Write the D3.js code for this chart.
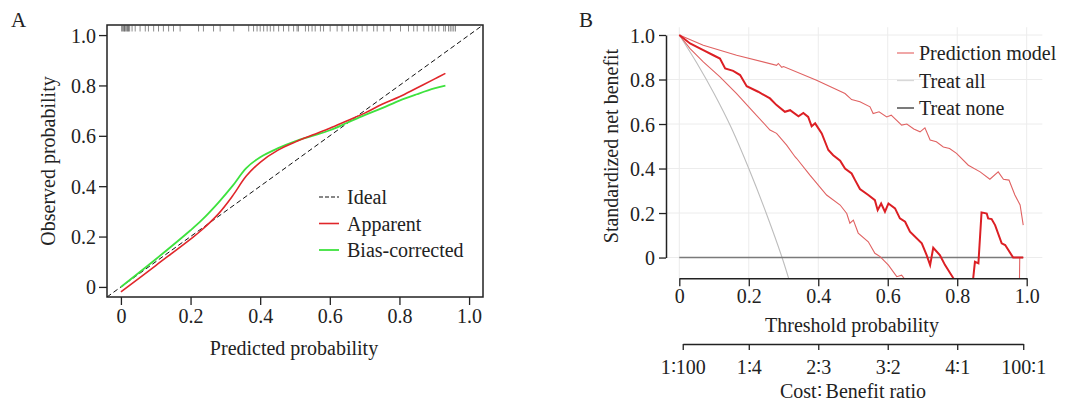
<!DOCTYPE html>
<html>
<head>
<meta charset="utf-8">
<script src="https://cdn.jsdelivr.net/npm/d3@7"></script>
<style>
  body { margin: 0; background: #fff; }
  svg text { font-family: "Liberation Serif", "DejaVu Serif", serif; fill: #222; }
</style>
</head>
<body>
<svg id="chart" width="1067" height="402"></svg>
<script>
// ---- panel A: calibration curve ----
const calTicks = [0, 0.2, 0.4, 0.6, 0.8, 1.0];
const calTickLabels = ["0", "0.2", "0.4", "0.6", "0.8", "1.0"];
const apparentPred = [0, 0.1, 0.2, 0.232, 0.28, 0.32, 0.36, 0.4, 0.45, 0.5, 0.55, 0.6, 0.65, 0.7, 0.75, 0.8, 0.85, 0.9, 0.932];
const apparentObs  = [-0.02, 0.085, 0.19, 0.226, 0.29, 0.36, 0.44, 0.495, 0.542, 0.575, 0.603, 0.63, 0.66, 0.69, 0.725, 0.755, 0.79, 0.825, 0.848];
const biasPred = [0, 0.1, 0.2, 0.232, 0.28, 0.32, 0.36, 0.4, 0.45, 0.5, 0.55, 0.6, 0.65, 0.7, 0.75, 0.8, 0.85, 0.9, 0.932];
const biasObs  = [0, 0.11, 0.225, 0.265, 0.335, 0.4, 0.472, 0.515, 0.55, 0.578, 0.6, 0.622, 0.652, 0.682, 0.71, 0.74, 0.765, 0.788, 0.799];
// predicted probabilities shown as rug marks along the top
const rugPred = [0.002, 0.005, 0.008, 0.01, 0.012, 0.015, 0.018, 0.02, 0.022, 0.025, 0.032, 0.041, 0.055, 0.07, 0.079,
  0.094, 0.108, 0.122, 0.137, 0.151, 0.17, 0.223, 0.237, 0.266, 0.285, 0.324, 0.367, 0.381, 0.391, 0.4, 0.41,
  0.42, 0.429, 0.439, 0.453, 0.467, 0.482, 0.496, 0.506, 0.51, 0.53, 0.539, 0.549, 0.558, 0.573, 0.582, 0.601,
  0.621, 0.635, 0.654, 0.668, 0.678, 0.693, 0.707, 0.726, 0.736, 0.755, 0.774, 0.803, 0.826, 0.841, 0.851, 0.87,
  0.884, 0.894, 0.903, 0.913, 0.927, 0.932, 0.941, 0.946, 0.951, 0.956, 0.961];

// ---- panel B: decision curve ----
const dcaTicks = [0, 0.2, 0.4, 0.6, 0.8, 1.0];
const dcaTickLabels = ["0", "0.2", "0.4", "0.6", "0.8", "1.0"];
const ratioTicks = [0.0099, 0.2, 0.4, 0.6, 0.8, 0.99];
const ratioLabels = ["1\u2236100", "1\u22364", "2\u22363", "3\u22362", "4\u22361", "100\u22361"];
const modelThr = [0, 0.031, 0.069, 0.098, 0.117, 0.132, 0.155, 0.175, 0.194, 0.227, 0.261, 0.28, 0.304, 0.319, 0.343,
  0.357, 0.371, 0.381, 0.391, 0.41, 0.429, 0.443, 0.463, 0.477, 0.496, 0.506, 0.52, 0.544, 0.563, 0.571, 0.581,
  0.592, 0.602, 0.621, 0.635, 0.65, 0.664, 0.698, 0.712, 0.722, 0.731, 0.75, 0.765, 0.789, 0.8, 0.82, 0.84,
  0.846, 0.851, 0.861, 0.87, 0.885, 0.889, 0.899, 0.909, 0.928, 0.938, 0.961, 0.99];
const modelNB = [1, 0.962, 0.932, 0.909, 0.894, 0.85, 0.839, 0.82, 0.77, 0.745, 0.715, 0.685, 0.655, 0.662, 0.635,
  0.65, 0.632, 0.59, 0.603, 0.558, 0.483, 0.46, 0.435, 0.4, 0.378, 0.348, 0.308, 0.281, 0.258, 0.213, 0.243,
  0.206, 0.243, 0.221, 0.176, 0.161, 0.116, 0.064, 0.011, -0.034, 0.044, 0.011, -0.034, -0.093, -0.2, -0.3, -0.2,
  -0.093, -0.019, -0.026, 0.203, 0.198, 0.176, 0.173, 0.146, 0.064, 0.056, 0, 0];
const upperThr = [0, 0.069, 0.165, 0.28, 0.285, 0.295, 0.3, 0.395, 0.477, 0.496, 0.52, 0.549, 0.558, 0.575, 0.597,
  0.61, 0.64, 0.655, 0.675, 0.693, 0.707, 0.722, 0.74, 0.76, 0.778, 0.798, 0.832, 0.866, 0.894, 0.918, 0.933,
  0.949, 0.966, 0.981, 0.99];
const upperNB = [1, 0.954, 0.909, 0.864, 0.872, 0.855, 0.858, 0.797, 0.737, 0.71, 0.7, 0.677, 0.647, 0.655, 0.632,
  0.64, 0.595, 0.6, 0.578, 0.565, 0.583, 0.528, 0.52, 0.497, 0.49, 0.468, 0.415, 0.385, 0.352, 0.385, 0.352,
  0.348, 0.281, 0.236, 0.146];
const lowerThr = [0, 0.031, 0.069, 0.117, 0.165, 0.213, 0.261, 0.28, 0.309, 0.333, 0.338, 0.376, 0.424, 0.463, 0.482,
  0.491, 0.501, 0.515, 0.544, 0.563, 0.578, 0.602, 0.626, 0.64, 0.65, 0.7, 0.8, 0.9, 0.975, 0.98, 0.99];
const lowerNB = [1, 0.939, 0.879, 0.812, 0.737, 0.655, 0.573, 0.558, 0.505, 0.453, 0.445, 0.37, 0.281, 0.236, 0.198,
  0.154, 0.168, 0.11, 0.071, 0.019, 0.004, -0.034, -0.086, -0.079, -0.1, -0.3, -0.5, -0.6, -0.6, 0, 0];
const allThr = [0, 0.05, 0.1, 0.15, 0.2, 0.25, 0.3, 0.32];
const allNB  = [1, 0.875, 0.737, 0.582, 0.4, 0.2, -0.02, -0.12];
const noneThr = [0, 0.99];
const noneNB  = [0, 0];

const svg = d3.select("#chart");
const FS = 20;
const zip = (a, b) => a.map((v, i) => [v, b[i]]);

// ================= Panel A =================
const xA = d3.scaleLinear().domain([-0.04, 1.04]).range([107, 483]);
const yA = d3.scaleLinear().domain([-0.04, 1.04]).range([297, 25]);

svg.append("text").attr("x", 11).attr("y", 27).attr("font-size", 21).text("A");

svg.append("clipPath").attr("id", "clipA").append("rect")
  .attr("x", 107).attr("y", 25).attr("width", 376).attr("height", 272);

const gA = svg.append("g");
const lineA = d3.line().x(d => xA(d[0])).y(d => yA(d[1])).curve(d3.curveCatmullRom.alpha(0.5));

// ideal diagonal
gA.append("path").attr("clip-path", "url(#clipA)")
  .attr("d", d3.line().x(d => xA(d[0])).y(d => yA(d[1]))([[-0.04, -0.04], [1.04, 1.04]]))
  .attr("fill", "none").attr("stroke", "#111").attr("stroke-width", 1).attr("stroke-dasharray", "5,3");
gA.append("path").attr("d", lineA(zip(biasPred, biasObs)))
  .attr("fill", "none").attr("stroke", "#3ee23e").attr("stroke-width", 1.8);
gA.append("path").attr("d", lineA(zip(apparentPred, apparentObs)))
  .attr("fill", "none").attr("stroke", "#e0262a").attr("stroke-width", 1.6);

// rug
gA.selectAll(".rug").data(rugPred).enter().append("line")
  .attr("x1", d => xA(d)).attr("x2", d => xA(d)).attr("y1", 25.5).attr("y2", 31.5)
  .attr("stroke", "#000").attr("stroke-width", 1).attr("stroke-opacity", 0.45);

// box
gA.append("rect").attr("x", 107).attr("y", 25).attr("width", 376).attr("height", 272)
  .attr("fill", "none").attr("stroke", "#222").attr("stroke-width", 1.5);

// axes
const axAx = gA.append("g").attr("transform", "translate(0,297)")
  .call(d3.axisBottom(xA).tickValues(calTicks).tickFormat((d, i) => calTickLabels[i]).tickSize(8).tickPadding(4));
const axAy = gA.append("g").attr("transform", "translate(107,0)")
  .call(d3.axisLeft(yA).tickValues(calTicks).tickFormat((d, i) => calTickLabels[i]).tickSize(8).tickPadding(3));
[axAx, axAy].forEach(g => {
  g.select(".domain").remove();
  g.selectAll("line").attr("stroke", "#222").attr("stroke-width", 1.3);
  g.selectAll("text").attr("font-size", FS).attr("font-family", "Liberation Serif").attr("fill", "#222");
});
axAy.selectAll("text").attr("dy", "0.35em");

svg.append("text").attr("x", 294).attr("y", 355).attr("text-anchor", "middle").attr("font-size", FS)
  .text("Predicted probability");
svg.append("text").attr("transform", "translate(55,161) rotate(-90)").attr("text-anchor", "middle")
  .attr("font-size", FS).text("Observed probability");

// legend A
const legA = [
  { label: "Ideal", color: "#111", dash: "4,2", w: 1.2 },
  { label: "Apparent", color: "#e0262a", dash: null, w: 1.6 },
  { label: "Bias-corrected", color: "#3ee23e", dash: null, w: 1.8 }
];
legA.forEach((d, i) => {
  const y = 197 + i * 26.5;
  svg.append("line").attr("x1", 319).attr("x2", 339).attr("y1", y).attr("y2", y)
    .attr("stroke", d.color).attr("stroke-width", d.w).attr("stroke-dasharray", d.dash);
  svg.append("text").attr("x", 347).attr("y", y + 7).attr("font-size", FS).text(d.label);
});

// ================= Panel B =================
const xB = d3.scaleLinear().domain([0, 1]).range([679.3, 1026.7]);
const yB = d3.scaleLinear().domain([-0.1, 1]).range([279.8, 35]);
const axisY = 278.3;

svg.append("text").attr("x", 579).attr("y", 27).attr("font-size", 21).text("B");

const gB = svg.append("g");
// grid
const gx0 = xB(-0.035), gx1 = xB(1.045), gy0 = yB(1.035);
dcaTicks.forEach(t => {
  gB.append("line").attr("x1", xB(t)).attr("x2", xB(t)).attr("y1", gy0).attr("y2", axisY)
    .attr("stroke", "#ececec").attr("stroke-width", 1);
  gB.append("line").attr("x1", gx0).attr("x2", gx1).attr("y1", yB(t)).attr("y2", yB(t))
    .attr("stroke", "#ececec").attr("stroke-width", 1);
});

svg.append("clipPath").attr("id", "clipB").append("rect")
  .attr("x", 660).attr("y", 20).attr("width", 390).attr("height", axisY - 20);

const lineB = d3.line().x(d => xB(d[0])).y(d => yB(d[1]));
const curves = gB.append("g").attr("clip-path", "url(#clipB)");
curves.append("path").attr("d", lineB.curve(d3.curveMonotoneX)(zip(allThr, allNB)))
  .attr("fill", "none").attr("stroke", "#bdbdbd").attr("stroke-width", 1.1);
lineB.curve(d3.curveLinear);
curves.append("path").attr("d", lineB(zip(noneThr, noneNB)))
  .attr("fill", "none").attr("stroke", "#7a7a7a").attr("stroke-width", 1.6);
curves.append("path").attr("d", lineB(zip(upperThr, upperNB)))
  .attr("fill", "none").attr("stroke", "#e06262").attr("stroke-width", 1.1);
curves.append("path").attr("d", lineB(zip(lowerThr, lowerNB)))
  .attr("fill", "none").attr("stroke", "#e06262").attr("stroke-width", 1.1);
curves.append("path").attr("d", lineB(zip(modelThr, modelNB)))
  .attr("fill", "none").attr("stroke", "#dc1f24").attr("stroke-width", 2);

// axes B
const axBx = gB.append("g").attr("transform", `translate(0,${axisY})`)
  .call(d3.axisBottom(xB).tickValues(dcaTicks).tickFormat((d, i) => dcaTickLabels[i]).tickSize(8).tickSizeOuter(0).tickPadding(3));
const axBy = gB.append("g").attr("transform", "translate(666,0)")
  .call(d3.axisLeft(yB.copy().domain([0, 1]).range([yB(0), yB(1)])).tickValues(dcaTicks)
    .tickFormat((d, i) => dcaTickLabels[i]).tickSize(7).tickSizeOuter(0).tickPadding(4));
const axBr = gB.append("g").attr("transform", "translate(0,344)")
  .call(d3.axisBottom(xB.copy().domain([0.0099, 0.99]).range([xB(0.0099), xB(0.99)])).tickValues(ratioTicks)
    .tickFormat((d, i) => ratioLabels[i]).tickSize(6).tickSizeOuter(0).tickPadding(10));
[axBx, axBy, axBr].forEach(g => {
  g.select(".domain").attr("stroke", "#222").attr("stroke-width", 1.5);
  g.selectAll("line").attr("stroke", "#222").attr("stroke-width", 1.3);
  g.selectAll("text").attr("font-size", FS).attr("font-family", "Liberation Serif").attr("fill", "#222");
});
axBy.selectAll("text").attr("dy", "0.35em");

svg.append("text").attr("x", 852).attr("y", 332).attr("text-anchor", "middle").attr("font-size", FS)
  .text("Threshold probability");
svg.append("text").attr("x", 853).attr("y", 398).attr("text-anchor", "middle").attr("font-size", FS)
  .text("Cost\u2236\u2009Benefit ratio");
svg.append("text").attr("transform", "translate(618,146) rotate(-90)").attr("text-anchor", "middle")
  .attr("font-size", FS).text("Standardized net benefit");

// legend B
const legB = [
  { label: "Prediction model", color: "#e87878" },
  { label: "Treat all", color: "#d8d8d8" },
  { label: "Treat none", color: "#333" }
];
legB.forEach((d, i) => {
  const y = 53 + i * 27.5;
  svg.append("line").attr("x1", 897).attr("x2", 914).attr("y1", y).attr("y2", y)
    .attr("stroke", d.color).attr("stroke-width", 1.3);
  svg.append("text").attr("x", 919).attr("y", y + 7).attr("font-size", FS).text(d.label);
});
</script>
</body>
</html>
